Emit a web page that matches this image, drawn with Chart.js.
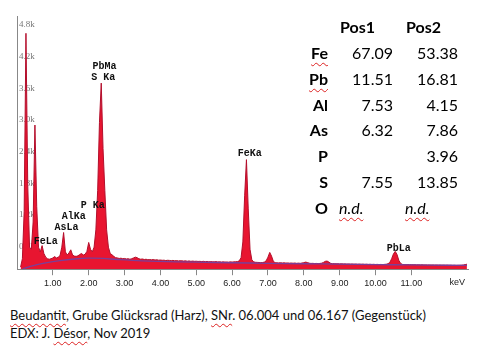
<!DOCTYPE html>
<html>
<head>
<meta charset="utf-8">
<script src="https://cdn.jsdelivr.net/npm/chart.js@4"></script>
<style>
  html, body { margin: 0; padding: 0; background: #fff; }
  #wrap { position: relative; width: 478px; height: 347px; overflow: hidden; }
  #c { position: absolute; left: 0; top: 0; }
  .cell { position: absolute; font-family: Lato, "Open Sans", sans-serif; font-size: 16px; color: #000; line-height: 20px; white-space: nowrap; }
  .el { font-weight: bold; text-align: right; width: 40px; }
  .num { text-align: right; width: 60px; }
  .hd { font-weight: bold; }
  .nd { font-style: italic; }
  .squiggle { text-decoration: underline wavy #d22; text-decoration-thickness: 1px; text-underline-offset: 3px; }
  .cap { position: absolute; left: 10px; font-family: Lato, "Open Sans", sans-serif; font-size: 13px; color: #111; line-height: 18px; white-space: nowrap; }
</style>
</head>
<body>
<div id="wrap">
  <canvas id="c" width="478" height="300"></canvas>
  <div id="table"></div>
  <div class="cap" style="top:306px"><span class="squiggle">Beudantit</span>, Grube Glücksrad (Harz), <span class="squiggle">SNr</span>. 06.004 und 06.167 (Gegenstück)</div>
  <div class="cap" style="top:324px">EDX: J. <span class="squiggle">Désor</span>, Nov 2019</div>
</div>
<script>
// EDX spectrum: counts per channel, channels start at 0.10 keV, 0.05 keV wide
const channelStart = 0.10;
const channelWidth = 0.05;
const counts = [
  // 0.10 - 0.95 keV
  40, 200, 1100, 4500, 1600, 420, 380, 900, 2750, 1200, 420, 330, 450, 300, 230, 200, 190, 200,
  // 1.00 - 1.95
  215, 240, 215, 230, 260, 420, 700, 330, 270, 310, 370, 270, 250, 245, 255, 280, 300, 270, 285, 340,
  // 2.00 - 2.95
  510, 380, 330, 420, 750, 1500, 2800, 3550, 2300, 1500, 750, 420, 300, 275, 245, 220, 215, 205, 210, 200,
  // 3.00 - 3.95
  205, 195, 200, 190, 200, 215, 230, 220, 200, 190, 195, 185, 190, 180, 185, 178, 185, 175, 180, 172,
  // 4.00 - 4.95
  175, 170, 172, 165, 170, 168, 162, 168, 160, 165, 158, 162, 160, 155, 160, 152, 158, 150, 155, 150,
  // 5.00 - 5.95
  152, 148, 150, 145, 150, 142, 148, 140, 145, 142, 140, 145, 138, 142, 135, 140, 136, 138, 134, 140,
  // 6.00 - 6.95
  136, 140, 142, 145, 160, 220, 520, 1400, 2090, 1150, 380, 180, 140, 132, 130, 128, 125, 128, 135, 160,
  // 7.00 - 7.95
  230, 320, 250, 150, 125, 122, 120, 124, 118, 122, 117, 120, 115, 118, 114, 118, 112, 116, 112, 118,
  // 8.00 - 8.95
  125, 135, 128, 115, 110, 112, 108, 110, 106, 110, 115, 130, 150, 155, 135, 112, 104, 106, 102, 104,
  // 9.00 - 9.95
  100, 103, 99, 101, 97, 100, 96, 99, 95, 98, 94, 97, 93, 96, 92, 95, 91, 94, 90, 93,
  // 10.00 - 10.95
  90, 92, 89, 91, 88, 92, 95, 105, 130, 200, 290, 340, 280, 170, 110, 92, 88, 86, 88, 85,
  // 11.00 - 11.95
  86, 84, 85, 82, 84, 81, 83, 80, 82, 79, 81, 78, 80, 77, 79, 76, 78, 75, 77, 74,
  // 12.00 - 12.55
  76, 73, 75, 72, 74, 71, 73, 74, 76, 80, 88, 95
];

// Fitted bremsstrahlung background
const bgEnergy = [0.15, 0.4, 0.8, 1.2, 1.6, 2.0, 2.4, 2.8, 3.5, 4.5, 5.5, 6.5, 7.5, 8.5, 9.5, 10.5, 11.5, 12.55];
const bgCounts = [0, 60, 120, 165, 195, 210, 205, 185, 160, 140, 128, 118, 108, 100, 92, 85, 78, 72];

// Peak identifications: line energy (keV) and height of the tag (counts)
const peakNames   = ['FeLa', 'AsLa', 'AlKa', 'P Ka', 'PbMa', 'S Ka', 'FeKa', 'PbLa'];
const peakEnergy  = [0.705, 1.282, 1.486, 2.013, 2.342, 2.307, 6.398, 10.551];
const peakTagAt   = [537, 797, 1012, 1221, 3873, 3665, 2202, 399];

// Axis ticks
const xTicks = [1, 2, 3, 4, 5, 6, 7, 8, 9, 10, 11];
const xUnit = 'keV';
const xUnitAt = 12.28;
const yTickStep = 600;
const yMax = 4830;
const xMax = 12.58;

// Quantification table (wt%)
const elements = ['Fe', 'Pb', 'Al', 'As', 'P', 'S', 'O'];
const pos1 = [67.09, 11.51, 7.53, 6.32, null, 7.55, 'n.d.'];
const pos2 = [53.38, 16.81, 4.15, 7.86, 3.96, 13.85, 'n.d.'];
const spellFlagged = ['Fe', 'Pb'];

const spectrum = counts.map((c, i) => ({ x: +(channelStart + i * channelWidth).toFixed(2), y: c }));
const background = bgEnergy.map((e, i) => ({ x: e, y: bgCounts[i] }));

const tickFont = '9px "Liberation Sans", Arial, sans-serif';

const peakTags = {
  id: 'peakTags',
  afterDatasetsDraw(chart) {
    const { ctx, scales: { x, y } } = chart;
    ctx.save();
    ctx.font = 'bold 10px "Liberation Mono", "DejaVu Sans Mono", monospace';
    ctx.fillStyle = '#111';
    ctx.textAlign = 'center';
    ctx.textBaseline = 'middle';
    peakNames.forEach((name, i) => {
      ctx.fillText(name, x.getPixelForValue(peakEnergy[i]) + 3.5, y.getPixelForValue(peakTagAt[i]));
    });
    // unit label at the end of the energy axis
    ctx.font = tickFont;
    ctx.fillStyle = '#222';
    ctx.textBaseline = 'top';
    ctx.fillText(xUnit, x.getPixelForValue(xUnitAt), x.top + 6 + 3);
    ctx.restore();
  }
};

new Chart(document.getElementById('c'), {
  type: 'line',
  data: {
    datasets: [
      {
        data: background,
        borderColor: '#7a3f9a',
        borderWidth: 1.3,
        pointRadius: 0,
        fill: false,
        tension: 0.4,
        order: 0
      },
      {
        data: spectrum,
        borderColor: '#b30f2c',
        borderWidth: 1,
        backgroundColor: '#e81530',
        pointRadius: 0,
        fill: 'origin',
        tension: 0,
        order: 1
      }
    ]
  },
  options: {
    responsive: false,
    animation: false,
    events: [],
    layout: { padding: { left: 13, right: 10, top: 16, bottom: 8 } },
    plugins: { legend: { display: false }, tooltip: { enabled: false } },
    scales: {
      x: {
        type: 'linear',
        min: 0,
        max: xMax,
        afterBuildTicks: scale => { scale.ticks = xTicks.map(v => ({ value: v })); },
        border: { color: '#888', width: 1 },
        grid: { drawOnChartArea: false, drawTicks: true, tickLength: 6, color: '#888' },
        ticks: {
          autoSkip: false,
          maxRotation: 0,
          padding: 3,
          color: '#222',
          font: { family: '"Liberation Sans", Arial, sans-serif', size: 9 },
          callback: v => v.toFixed(2)
        }
      },
      y: {
        type: 'linear',
        min: 0,
        max: yMax,
        border: { color: '#888', width: 1 },
        grid: { drawOnChartArea: false, drawTicks: false },
        ticks: {
          stepSize: yTickStep,
          mirror: true,
          padding: 2,
          labelOffset: 9,
          color: '#777',
          font: { family: '"Liberation Serif", serif', size: 9 },
          callback: v => (v === 0 ? '' : (v / 1000).toFixed(1) + 'k')
        }
      }
    }
  },
  plugins: [peakTags]
});

// Quantification table
(function buildTable() {
  const host = document.getElementById('table');
  const rowTop = 43, rowStep = 25.8;
  const add = (html, cls, left, top) => {
    const d = document.createElement('div');
    d.className = 'cell ' + cls;
    d.style.left = left + 'px';
    d.style.top = top + 'px';
    d.innerHTML = html;
    host.appendChild(d);
  };
  add('Pos1', 'hd', 340, rowTop - rowStep);
  add('Pos2', 'hd', 406, rowTop - rowStep);
  const fmt = v => (v === null ? '' : typeof v === 'string' ? '<span class="squiggle">' + v + '</span>' : v.toFixed(2));
  elements.forEach((el, i) => {
    const top = rowTop + i * rowStep;
    const label = spellFlagged.includes(el) ? '<span class="squiggle">' + el + '</span>' : el;
    add(label, 'el', 288, top);
    if (typeof pos1[i] === 'string') add(fmt(pos1[i]), 'nd', 339, top);
    else add(fmt(pos1[i]), 'num', 333, top);
    if (typeof pos2[i] === 'string') add(fmt(pos2[i]), 'nd', 405, top);
    else add(fmt(pos2[i]), 'num', 398, top);
  });
})();
</script>
</body>
</html>
